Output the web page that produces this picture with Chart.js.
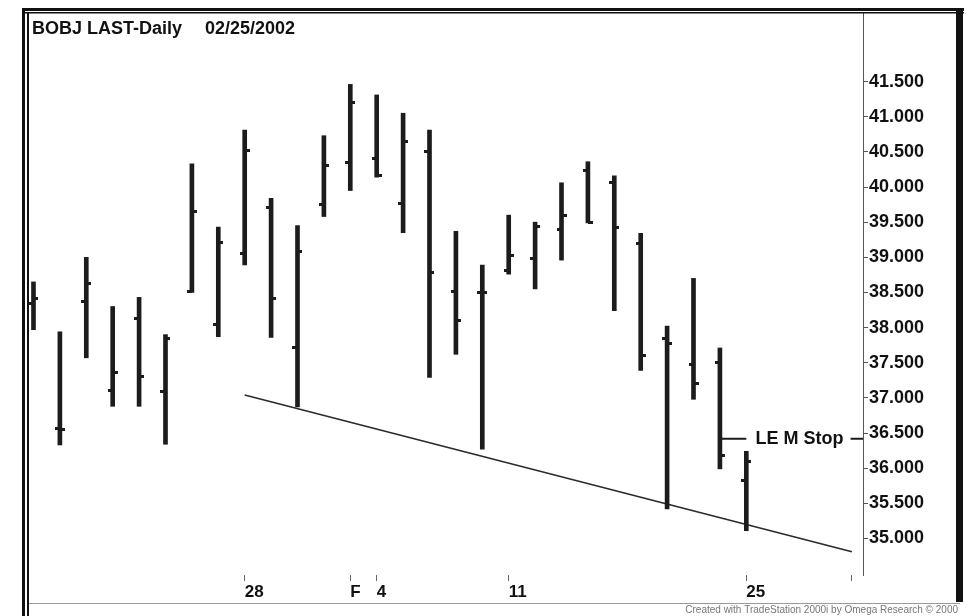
<!DOCTYPE html>
<html>
<head>
<meta charset="utf-8">
<title>BOBJ LAST-Daily</title>
<script src="https://cdn.jsdelivr.net/npm/chart.js@4/dist/chart.umd.min.js"></script>
<style>
  html, body { margin: 0; padding: 0; background: #fff; }
  #wrap { width: 966px; height: 616px; }
</style>
</head>
<body>
<div id="wrap"><canvas id="chart-canvas" width="966" height="616"></canvas></div>
<script>
// Barras diarias BOBJ (15 ene - 25 feb 2002), índice = sesión
const dayLabels = ['15', '16', '17', '18', '22', '23', '24', '25', '28', '29', '30', '31', 'F', '4',
  '5', '6', '7', '8', '11', '12', '13', '14', '15', '19', '20', '21', '22', '25', '26', '27', '28', 'M'];
const openVals = [38.34, 36.57, 38.37, 37.10, 38.13, 37.09, 38.52, 38.04, 39.05, 39.71, 37.71, 39.75,
  40.35, 40.40, 39.76, 40.51, 38.51, 38.50, 38.81, 38.98, 39.40, 40.24, 40.06, 39.19, 37.85, 37.48, 37.50, 35.82];
const highVals = [38.65, 37.94, 39.00, 38.30, 38.43, 37.90, 40.33, 39.43, 40.81, 39.84, 39.45, 40.73,
  41.46, 41.31, 41.05, 40.81, 39.37, 38.89, 39.60, 39.50, 40.06, 40.36, 40.16, 39.34, 38.02, 38.70, 37.71, 36.24];
const lowVals = [37.97, 36.33, 37.57, 36.88, 36.88, 36.34, 38.50, 37.87, 38.89, 37.86, 36.87, 39.58,
  39.95, 40.14, 39.35, 37.29, 37.62, 36.27, 38.76, 38.55, 38.96, 39.49, 38.24, 37.39, 35.42, 36.98, 35.99, 35.11];
const closeVals = [38.41, 36.55, 38.63, 37.36, 37.30, 37.85, 39.65, 39.21, 40.52, 38.41, 39.08, 40.31,
  41.20, 40.16, 40.65, 38.78, 38.10, 38.50, 39.02, 39.44, 39.60, 39.49, 39.42, 37.60, 37.77, 37.20, 36.18, 36.10];

// Línea de tendencia (índice inicial/final y precios)
const trendIdx = [8, 31];
const trendVals = [37.04, 34.81];

// Nivel del stop de entrada largo
const stopLevel = 36.42;
const stopIdx = [26, 27, 30.95, 31.42];

// Marcas del eje X (índices de sesión) y eje Y
const xTickIdx = [8, 12, 13, 18, 27, 31];
const xTickText = ['28', 'F', '4', '11', '25', ''];
const yTickVals = [35.0, 35.5, 36.0, 36.5, 37.0, 37.5, 38.0, 38.5, 39.0, 39.5, 40.0, 40.5, 41.0, 41.5];

const INK = '#1c1c1c';

// Pequeño canvas usado como pointStyle para la marca de apertura/cierre
function makeTick(side) {
  const c = document.createElement('canvas');
  c.width = 10;
  c.height = 3;
  const g = c.getContext('2d');
  g.fillStyle = INK;
  if (side === 'left') g.fillRect(0, 0, 5, 3);
  else g.fillRect(5, 0, 5, 3);
  return c;
}

const barData = highVals.map((h, i) => ({ x: i, y: [lowVals[i], h] }));
const openData = openVals.map((v, i) => ({ x: i, y: v }));
const closeData = closeVals.map((v, i) => ({ x: i, y: v }));
const trendData = trendIdx.map((x, i) => ({ x: x, y: trendVals[i] }));
const stopData = [
  { x: stopIdx[0], y: stopLevel }, { x: stopIdx[1], y: stopLevel },
  { x: (stopIdx[1] + stopIdx[2]) / 2, y: null },
  { x: stopIdx[2], y: stopLevel }, { x: stopIdx[3], y: stopLevel },
];

// Marco, título, texto del stop y pie
const decorPlugin = {
  id: 'decor',
  afterDraw(chart) {
    const ctx = chart.ctx;
    const xs = chart.scales.x;
    const ys = chart.scales.y;
    ctx.save();

    // marco
    ctx.fillStyle = '#111';
    ctx.fillRect(22, 8, 942, 3);
    ctx.fillRect(22, 12, 942, 1.5);
    ctx.fillRect(22, 8, 3, 608);
    ctx.fillRect(27, 12, 2, 604);
    ctx.fillRect(956, 8, 7, 594);
    ctx.fillStyle = '#999';
    ctx.fillRect(29, 603, 931, 1);

    // título
    ctx.fillStyle = '#111';
    ctx.font = 'bold 18px Arial, "Liberation Sans", sans-serif';
    ctx.textBaseline = 'alphabetic';
    ctx.textAlign = 'left';
    ctx.fillText('BOBJ LAST-Daily', 32, 34);
    ctx.fillText('02/25/2002', 205, 34);

    // etiqueta del stop
    const y = ys.getPixelForValue(stopLevel);
    const x0 = xs.getPixelForValue(stopIdx[1]);
    const x1 = xs.getPixelForValue(stopIdx[2]);
    ctx.font = 'bold 18px Arial, "Liberation Sans", sans-serif';
    ctx.textAlign = 'center';
    ctx.textBaseline = 'middle';
    ctx.fillText('LE M Stop', (x0 + x1) / 2 + 1, y);

    // pie
    ctx.fillStyle = '#777';
    ctx.font = '10px Arial, "Liberation Sans", sans-serif';
    ctx.textAlign = 'right';
    ctx.textBaseline = 'middle';
    ctx.fillText('Created with TradeStation 2000i by Omega Research \u00a9 2000', 958, 610);
    ctx.restore();
  }
};

new Chart(document.getElementById('chart-canvas').getContext('2d'), {
  type: 'bar',
  data: {
    datasets: [
      {
        type: 'bar',
        data: barData,
        backgroundColor: INK,
        borderWidth: 0,
        barThickness: 4,
        grouped: false,
      },
      {
        type: 'line',
        data: openData,
        showLine: false,
        pointStyle: makeTick('left'),
        pointRadius: 3,
        pointHoverRadius: 3,
      },
      {
        type: 'line',
        data: closeData,
        showLine: false,
        pointStyle: makeTick('right'),
        pointRadius: 3,
        pointHoverRadius: 3,
      },
      {
        type: 'line',
        data: trendData,
        borderColor: '#2a2a2a',
        borderWidth: 1.6,
        pointRadius: 0,
        fill: false,
      },
      {
        type: 'line',
        data: stopData,
        borderColor: INK,
        borderWidth: 2,
        pointRadius: 0,
        spanGaps: false,
        fill: false,
      },
    ],
  },
  options: {
    responsive: false,
    animation: false,
    devicePixelRatio: 1,
    events: [],
    layout: { padding: { left: 29, top: 12, right: 0, bottom: 0 } },
    plugins: {
      legend: { display: false },
      tooltip: { enabled: false },
    },
    scales: {
      x: {
        type: 'linear',
        min: -0.17,
        max: 31.42,
        offset: false,
        afterBuildTicks: scale => {
          scale.ticks = xTickIdx.map(v => ({ value: v }));
        },
        afterFit: scale => { scale.height = 41; },
        grid: { offset: false, drawOnChartArea: false, drawTicks: true, tickLength: 6, color: '#666', lineWidth: 1 },
        border: { display: false },
        ticks: {
          autoSkip: false,
          maxRotation: 0,
          align: 'start',
          padding: 1,
          color: '#111',
          font: { family: 'Arial, "Liberation Sans", sans-serif', size: 17, weight: 'bold' },
          callback: (value) => {
            const k = xTickIdx.indexOf(value);
            return k >= 0 ? xTickText[k] : '';
          },
        },
      },
      y: {
        type: 'linear',
        position: 'right',
        min: 34.48,
        max: 42.49,
        afterBuildTicks: scale => {
          scale.ticks = yTickVals.map(v => ({ value: v }));
        },
        afterFit: scale => { scale.width = 103; },
        grid: { drawOnChartArea: false, drawTicks: true, tickLength: 5, color: '#555', lineWidth: 1 },
        border: { display: true, color: '#555', width: 1 },
        ticks: {
          padding: 1,
          color: '#111',
          font: { family: 'Arial, "Liberation Sans", sans-serif', size: 18, weight: 'bold' },
          callback: value => value.toFixed(3),
        },
      },
    },
  },
  plugins: [decorPlugin],
});
</script>
</body>
</html>
